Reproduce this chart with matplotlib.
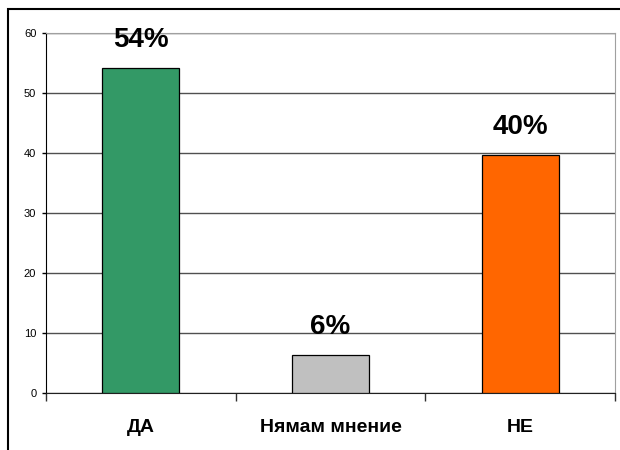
import matplotlib
matplotlib.use("Agg")
import matplotlib.pyplot as plt
from matplotlib.patches import Rectangle

plt.rcParams['font.family'] = ['Liberation Sans', 'DejaVu Sans']

# данни
kategorii = ['ДА', 'Нямам мнение', 'НЕ']
stoinosti = [54.2, 6.3, 39.7]
etiketi = ['54%', '6%', '40%']
cvetove = ['#339966', '#C0C0C0', '#FF6600']

fig = plt.figure(figsize=(6.2, 4.5), dpi=100)
ax = fig.add_axes([46/620, 1-393/450, (615-46)/620, 360/450])

x = range(len(kategorii))
ax.bar(x, stoinosti, width=0.405, color=cvetove, edgecolor='black', linewidth=0.9, zorder=3)

for xi, v, t in zip(x, stoinosti, etiketi):
    ax.annotate(t, (xi, v), xytext=(0, 20), textcoords='offset points',
                ha='center', va='center', fontsize=20, fontweight='bold')

ax.set_xlim(-0.5, 2.5)
ax.set_ylim(0, 60)
ax.set_yticks(range(0, 61, 10))
ax.yaxis.grid(True, color='#505050', linewidth=1, zorder=0)
ax.tick_params(axis='y', labelsize=8, length=3, width=1, pad=4)

# деления между категориите, надписи в средата
ax.set_xticks([-0.5, 0.5, 1.5, 2.5])
ax.set_xticklabels([])
ax.tick_params(axis='x', which='major', length=6, width=1, color='#303030')
ax.set_xticks(list(x), minor=True)
ax.set_xticklabels(kategorii, minor=True, fontsize=14, fontweight='bold')
ax.tick_params(axis='x', which='minor', length=0, pad=19)

for s in ['top', 'right']:
    ax.spines[s].set_color('#A0A0A0')
ax.spines['left'].set_color('black')
ax.spines['bottom'].set_color('#202020')

# рамка около диаграмата
fig.patches.append(Rectangle((8/620, -0.2), 1.2, 1.2 - 9/450, transform=fig.transFigure,
                             fill=False, edgecolor='black', linewidth=1.5, clip_on=False))

fig.savefig('out.png', dpi=100)
